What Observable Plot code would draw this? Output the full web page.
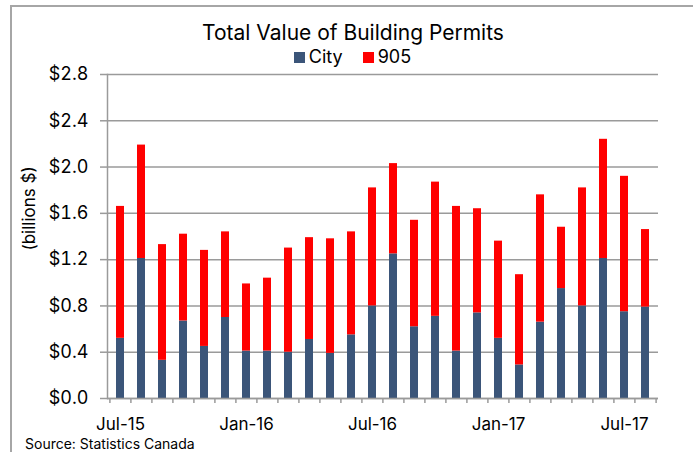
<!DOCTYPE html>
<html>
<head>
<meta charset="utf-8">
<script src="https://cdn.jsdelivr.net/npm/d3@7"></script>
<script src="https://cdn.jsdelivr.net/npm/@observablehq/plot@0.6"></script>
<style>
  body { margin: 0; background: #fff; font-family: Inter, "DejaVu Sans", sans-serif; color: #000; }
  #wrap { position: relative; width: 693px; height: 452px; overflow: hidden; padding-top: 22px; box-sizing: border-box; }
  #border { position: absolute; left: 10px; top: 5px; width: 800px; height: 600px; border-top: 2px solid #a6a6a6; border-left: 2px solid #a6a6a6; box-sizing: border-box; }
  #title { position: relative; height: 22px; line-height: 22px; font-size: 21px; text-align: center; padding-left: 13px; white-space: nowrap; }
  #legend { position: relative; margin-top: 4px; height: 18px; line-height: 18px; font-size: 18px; display: flex; justify-content: center; align-items: center; padding-left: 12px; gap: 20px; }
  #legend .item { display: flex; align-items: center; gap: 4px; }
  #legend .sw { width: 11px; height: 11px; display: inline-block; }
  #chart { position: relative; height: 370px; }
  #chart svg { display: block; }
  #caption { position: relative; height: 16px; line-height: 16px; font-size: 14px; padding-left: 25px; white-space: nowrap; }
</style>
</head>
<body>
<div id="wrap">
  <div id="border"></div>
  <div id="title">Total Value of Building Permits</div>
  <div id="legend"></div>
  <div id="chart"></div>
  <div id="caption">Source: Statistics Canada</div>
</div>
<script>
const months = ["Jul-15","Aug-15","Sep-15","Oct-15","Nov-15","Dec-15",
  "Jan-16","Feb-16","Mar-16","Apr-16","May-16","Jun-16",
  "Jul-16","Aug-16","Sep-16","Oct-16","Nov-16","Dec-16",
  "Jan-17","Feb-17","Mar-17","Apr-17","May-17","Jun-17",
  "Jul-17","Aug-17"];
const cityValues = [0.52,1.21,0.33,0.67,0.45,0.70,0.41,0.41,0.40,0.51,0.39,0.55,
  0.80,1.25,0.62,0.71,0.41,0.74,0.52,0.29,0.66,0.95,0.80,1.21,0.75,0.79];
const values905 = [1.14,0.98,1.00,0.75,0.83,0.74,0.58,0.63,0.90,0.88,0.99,0.89,
  1.02,0.78,0.92,1.16,1.25,0.90,0.84,0.78,1.10,0.53,1.02,1.03,1.17,0.67];
const seriesNames = ["City","905"];
const seriesColors = ["#3B5579","#FF0000"];
const yTicks = [0,0.4,0.8,1.2,1.6,2.0,2.4,2.8];
const xTickLabels = ["Jul-15","Jan-16","Jul-16","Jan-17","Jul-17"];

const data = [];
months.forEach((m, i) => data.push({month: m, series: "City", value: cityValues[i]}));
months.forEach((m, i) => data.push({month: m, series: "905", value: values905[i]}));

// legend
const legend = document.getElementById("legend");
seriesNames.forEach((name, i) => {
  const item = document.createElement("span");
  item.className = "item";
  const sw = document.createElement("span");
  sw.className = "sw";
  sw.style.background = seriesColors[i];
  const t = document.createElement("span");
  t.textContent = name;
  item.appendChild(sw);
  item.appendChild(t);
  legend.appendChild(item);
});

const W = 693, H = 370, ML = 107, MR = 35, MT = 8, MB = 38;
const step = (W - ML - MR) / months.length;
const frameH = H - MT - MB;
const grey = "#9a9a9a";

const chart = Plot.plot({
  width: W, height: H,
  marginTop: MT, marginBottom: MB, marginLeft: ML, marginRight: MR,
  style: {fontFamily: "Inter, 'DejaVu Sans', sans-serif", fontSize: "18px", color: "#000", background: "transparent", overflow: "visible"},
  x: {type: "band", domain: months, paddingInner: 0.6, paddingOuter: 0.3},
  y: {domain: [0, 2.8]},
  color: {domain: seriesNames, range: seriesColors},
  marks: [
    Plot.gridY(yTicks, {stroke: grey, strokeOpacity: 1, strokeWidth: 1.5}),
    Plot.barY(data, {x: "month", y: "value", fill: "series"}),
    Plot.ruleY([0], {stroke: grey, strokeWidth: 1.5}),
    Plot.axisY({ticks: yTicks, tickFormat: d => "$" + d.toFixed(1), tickSize: 7, tickPadding: 12, stroke: grey, strokeWidth: 1.5, fill: "#000", label: null, fontSize: 18}),
    Plot.frame({anchor: "left", stroke: grey, strokeWidth: 1.5}),
    Plot.axisX({ticks: xTickLabels, tickSize: 0, tickPadding: 19, label: null, fill: "#000", fontSize: 17}),
    Plot.tickX(months, {x: d => d, dx: -step / 2, insetTop: frameH, insetBottom: -5, stroke: grey, strokeWidth: 1.5}),
    Plot.tickX([months[months.length - 1]], {x: d => d, dx: step / 2, insetTop: frameH, insetBottom: -5, stroke: grey, strokeWidth: 1.5}),
    Plot.text(["(billions $)"], {frameAnchor: "left", dx: -78, dy: 14, rotate: -90, fontSize: 17, fill: "#000"})
  ]
});
document.getElementById("chart").appendChild(chart);
</script>
</body>
</html>
